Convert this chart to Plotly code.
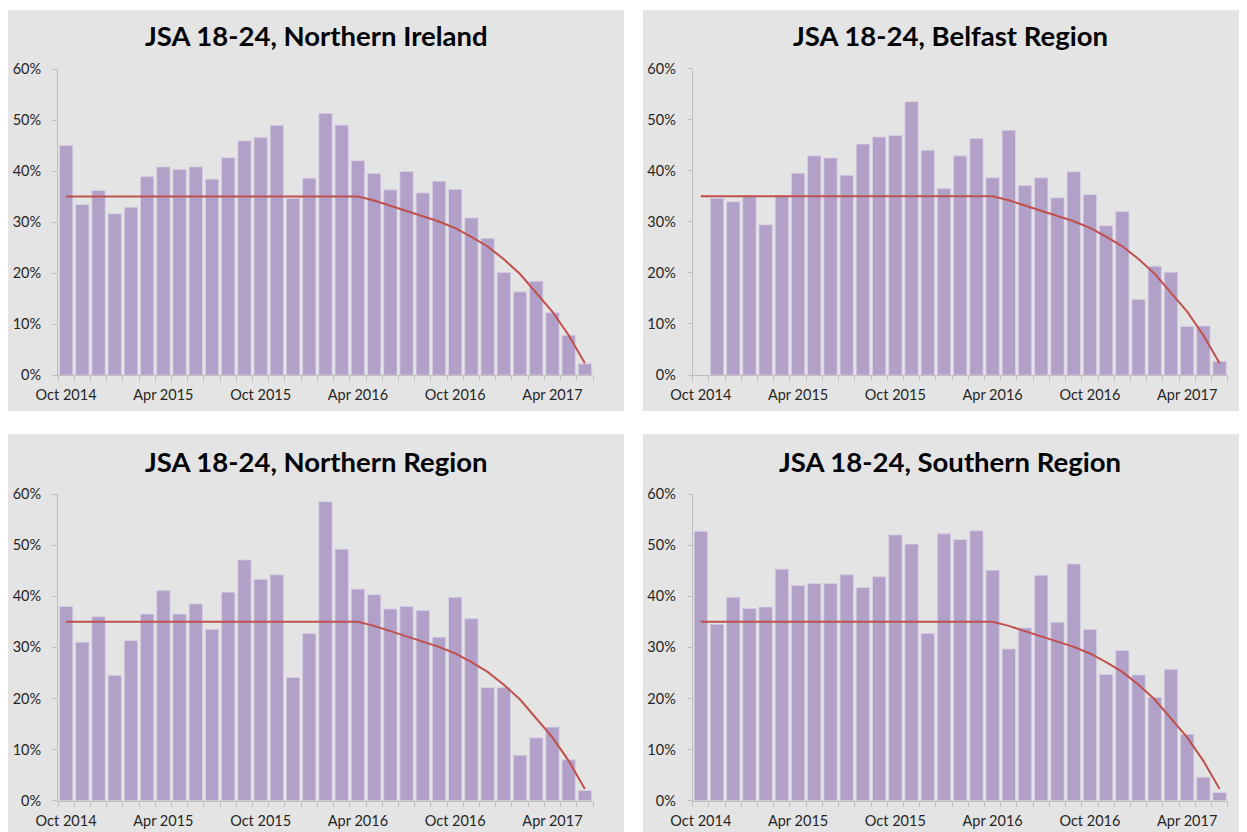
import plotly.graph_objects as go

months = ["Oct 2014", "Nov 2014", "Dec 2014",
          "Jan 2015", "Feb 2015", "Mar 2015", "Apr 2015", "May 2015", "Jun 2015",
          "Jul 2015", "Aug 2015", "Sep 2015", "Oct 2015", "Nov 2015", "Dec 2015",
          "Jan 2016", "Feb 2016", "Mar 2016", "Apr 2016", "May 2016", "Jun 2016",
          "Jul 2016", "Aug 2016", "Sep 2016", "Oct 2016", "Nov 2016", "Dec 2016",
          "Jan 2017", "Feb 2017", "Mar 2017", "Apr 2017", "May 2017", "Jun 2017"]

northern_ireland = [45.0, 33.4, 36.2, 31.6, 32.9, 38.9, 40.8, 40.3, 40.8, 38.4, 42.6,
                    45.9, 46.6, 48.9, 34.6, 38.6, 51.3, 49.0, 42.0, 39.5, 36.3, 39.9,
                    35.7, 38.0, 36.4, 30.8, 26.8, 20.1, 16.3, 18.4, 12.2, 7.8, 2.2]

belfast = [None, 34.6, 33.9, 35.1, 29.4, 35.1, 39.5, 42.9, 42.5, 39.1, 45.2,
           46.6, 46.9, 53.5, 44.0, 36.5, 42.9, 46.3, 38.6, 47.9, 37.1, 38.6,
           34.7, 39.8, 35.3, 29.2, 32.0, 14.8, 21.3, 20.1, 9.5, 9.6, 2.7]

northern_region = [38.0, 31.0, 36.0, 24.5, 31.3, 36.5, 41.1, 36.5, 38.5, 33.5, 40.8,
                   47.1, 43.3, 44.2, 24.1, 32.7, 58.5, 49.2, 41.4, 40.3, 37.5, 38.0,
                   37.2, 32.0, 39.8, 35.6, 22.1, 22.1, 8.9, 12.3, 14.4, 8.0, 2.0]

southern_region = [52.7, 34.5, 39.8, 37.6, 37.9, 45.3, 42.1, 42.5, 42.5, 44.2, 41.7,
                   43.8, 52.0, 50.2, 32.7, 52.2, 51.1, 52.8, 45.1, 29.7, 33.8, 44.1,
                   34.9, 46.3, 33.5, 24.7, 29.4, 24.6, 20.2, 25.7, 13.0, 4.6, 1.6]

target = [35.0] * 19 + [34.2, 33.2, 32.2, 31.2, 30.1, 28.8, 27.1, 25.2, 22.7,
                        19.8, 16.1, 12.4, 7.8, 2.3]

y_ticks = [0, 10, 20, 30, 40, 50, 60]
y_labels = ["0%", "10%", "20%", "30%", "40%", "50%", "60%"]

titles = ["JSA 18-24, Northern Ireland", "JSA 18-24, Belfast Region",
          "JSA 18-24, Northern Region", "JSA 18-24, Southern Region"]
series = [northern_ireland, belfast, northern_region, southern_region]

# the page places the figure 8px in from the top-left corner of the window
OFF = 8
W, H = 1247 - OFF, 832 - OFF
BAR = "#b1a0c7"
LINE = "#c0504d"
PANEL = "#e4e4e4"
AXIS = "#bfbfbf"
TXT = "#262626"
FONT = "Lato"

# window pixel positions: panel boxes and plot areas (x0, x1, y0, y1)
boxes = [(8, 624, 10, 411), (643, 1247, 10, 411), (8, 624, 434, 832), (643, 1247, 434, 832)]
plots = [(58, 593, 69, 375), (692.7, 1227.7, 68.5, 375),
         (58, 593, 494, 800.7), (692.7, 1227.7, 494, 800.7)]
title_pos = [(316, 36), (950, 35), (316, 461), (950, 461)]


def px(x):
    return (x - OFF) / W


def py(y):
    return 1 - (y - OFF) / H


xs = list(range(len(months)))
fig = go.Figure()
shapes, annotations = [], []
layout = {}
for k in range(4):
    n = "" if k == 0 else str(k + 1)
    fig.add_trace(go.Bar(x=xs, y=series[k], xaxis="x" + n, yaxis="y" + n,
                         marker=dict(color=BAR, line=dict(color="#d8cfe4", width=0.8)),
                         text=months, hovertemplate="%{text}: %{y:.1f}%<extra></extra>",
                         textposition="none", showlegend=False))
    fig.add_trace(go.Scatter(x=xs, y=target, xaxis="x" + n, yaxis="y" + n, mode="lines",
                             line=dict(color=LINE, width=2), showlegend=False,
                             hoverinfo="skip"))
    x0, x1, y0, y1 = plots[k]
    layout["xaxis" + n] = dict(
        domain=[px(x0), px(x1)], anchor="y" + n, range=[-0.5, len(months) - 0.5],
        tickmode="array", tickvals=xs[::6], ticktext=months[::6], automargin=False,
        ticks="outside", ticklen=7, tickcolor="rgba(0,0,0,0)",
        showline=True, linecolor=AXIS, linewidth=1, showgrid=False, zeroline=False,
        tickfont=dict(family=FONT, size=14.5, color=TXT), fixedrange=True,
        minor=dict(tickmode="array", tickvals=[i - 0.5 for i in range(len(months) + 1)],
                   ticks="outside", ticklen=5, tickcolor=AXIS, showgrid=False))
    layout["yaxis" + n] = dict(
        domain=[py(y1), py(y0)], anchor="x" + n, range=[0, 60],
        tickmode="array", tickvals=y_ticks, ticktext=y_labels, automargin=False,
        ticks="outside", ticklen=5, tickcolor=AXIS, ticklabelstandoff=8,
        showline=True, linecolor=AXIS, linewidth=1, showgrid=False, zeroline=False,
        tickfont=dict(family=FONT, size=14.5, color=TXT), fixedrange=True)
    bx0, bx1, by0, by1 = boxes[k]
    shapes.append(dict(type="rect", xref="paper", yref="paper", x0=px(bx0), x1=px(bx1),
                       y0=py(by1), y1=py(by0), fillcolor=PANEL, line=dict(width=0),
                       layer="below"))
    tx, ty = title_pos[k]
    annotations.append(dict(text="<b>" + titles[k] + "</b>", xref="paper", yref="paper",
                            x=px(tx), y=py(ty), xanchor="center", yanchor="middle",
                            showarrow=False, font=dict(family=FONT, size=27.5, color="#000000")))

fig.update_layout(width=W, height=H, margin=dict(l=0, r=0, t=0, b=0),
                  paper_bgcolor="white", plot_bgcolor="rgba(0,0,0,0)",
                  bargap=0.18, shapes=shapes, annotations=annotations,
                  font=dict(family=FONT), **layout)
fig.write_html("out.html")
